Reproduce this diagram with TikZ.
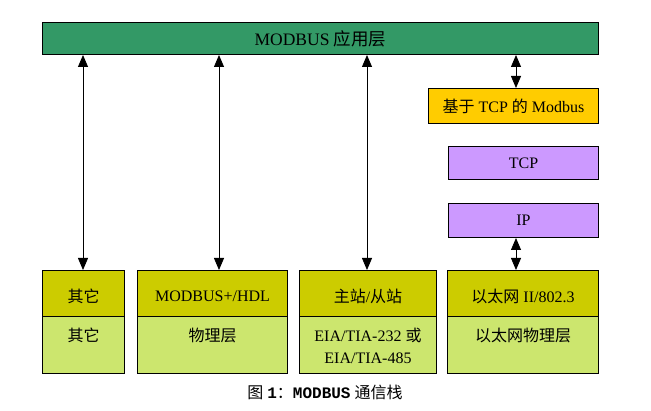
\documentclass[tikz,border=0pt]{standalone}
\usepackage{fontspec}
\setmainfont{Liberation Serif}
\newfontfamily\cjk{Noto Sans CJK SC}
\newfontfamily\capmono{Liberation Mono}
\usetikzlibrary{arrows.meta}
\newcommand\zh[1]{{\cjk #1}}
\definecolor{appgreen}{HTML}{339966}
\definecolor{tcporange}{HTML}{FFCC00}
\definecolor{lilac}{HTML}{CC99FF}
\definecolor{olive}{HTML}{CCCC00}
\definecolor{lightgreen}{HTML}{CCE66E}
\tikzset{
  box/.style={draw=black, line width=1pt, inner sep=0pt, anchor=north west,
    font=\fontsize{16}{19}\selectfont, align=center},
  lbl/.style={inner sep=0pt, anchor=center, font=\fontsize{16}{22}\selectfont, align=center},
  dbl/.style={line width=0.8pt, {Triangle[width=10pt,length=12pt]}-{Triangle[width=10pt,length=12pt]}}
}
\begin{document}
\begin{tikzpicture}[x=1pt,y=-1pt]
\useasboundingbox (0,0) rectangle (651,411);
% top bar
\node[box, fill=appgreen, minimum width=556pt, minimum height=32pt] (app) at (42,22) {};
\node[lbl, font=\fontsize{17.5}{20}\selectfont] (appt) at (app.center) {MODBUS \zh{应用层}};
% right stack
\node[box, fill=tcporange, minimum width=170pt, minimum height=35pt] (mb) at (428,88) {};
\node[lbl] (mbt) at (mb.center) {\zh{基于} TCP \zh{的} Modbus};
\node[box, fill=lilac, minimum width=150pt, minimum height=33pt] (tcp) at (448,146) {};
\node[lbl] (tcpt) at (tcp.center) {TCP};
\node[box, fill=lilac, minimum width=150pt, minimum height=34pt] (ip) at (448,203) {};
\node[lbl] (ipt) at (ip.center) {IP};
% bottom boxes
\node[box, fill=olive, minimum width=82pt, minimum height=46pt] (b1u) at (42,270) {};
\node[box, fill=lightgreen, minimum width=82pt, minimum height=57pt] (b1l) at (42,316) {};
\node[box, fill=olive, minimum width=150pt, minimum height=46pt] (b2u) at (137,270) {};
\node[box, fill=lightgreen, minimum width=150pt, minimum height=57pt] (b2l) at (137,316) {};
\node[box, fill=olive, minimum width=137pt, minimum height=46pt] (b3u) at (299,270) {};
\node[box, fill=lightgreen, minimum width=137pt, minimum height=57pt] (b3l) at (299,316) {};
\node[box, fill=olive, minimum width=151pt, minimum height=46pt] (b4u) at (447,270) {};
\node[box, fill=lightgreen, minimum width=151pt, minimum height=57pt] (b4l) at (447,316) {};
% texts
\node[lbl] (t1u) at ([yshift=-3pt]b1u.center) {\zh{其它}};
\node[lbl] (t2u) at ([yshift=-3pt]b2u.center) {MODBUS+/HDL};
\node[lbl] (t3u) at ([yshift=-3pt]b3u.center) {\zh{主站}/\zh{从站}};
\node[lbl] (t4u) at ([yshift=-3pt]b4u.center) {\zh{以太网} II/802.3};
\node[lbl] (t1l) at ([yshift=-19pt]b1l.north) {\zh{其它}};
\node[lbl] (t2l) at ([yshift=-19pt]b2l.north) {\zh{物理层}};
\node[lbl, anchor=north] (t3l) at ([yshift=-12pt]b3l.north) {EIA/TIA-232 \zh{或}\\EIA/TIA-485};
\node[lbl] (t4l) at ([yshift=-19pt]b4l.north) {\zh{以太网物理层}};
% arrows
\coordinate (a1) at (83,0);
\coordinate (a2) at (219,0);
\coordinate (a3) at (367,0);
\coordinate (a4) at (516,0);
\draw[dbl] (app.south -| a1) -- (b1u.north -| a1);
\draw[dbl] (app.south -| a2) -- (b2u.north -| a2);
\draw[dbl] (app.south -| a3) -- (b3u.north -| a3);
\draw[dbl] (app.south -| a4) -- (mb.north -| a4);
\draw[dbl] (ip.south -| a4) -- (b4u.north -| a4);
% caption
\node[lbl, font=\fontsize{16}{18}\selectfont] (cap) at (325,392) {\zh{图} {\capmono\bfseries 1}\zh{：}{\capmono\bfseries MODBUS} \zh{通信栈}};
\end{tikzpicture}
\end{document}
